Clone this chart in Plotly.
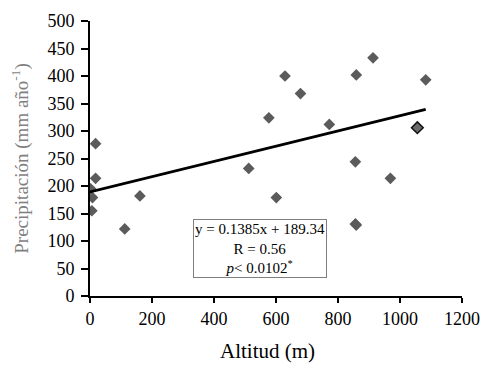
import plotly.graph_objects as go

altitud = [18, 18, 2, 8, 6, 161, 112, 629, 679, 577, 772, 859, 913, 1083, 512, 601, 856, 856, 969, 859]
precip = [277, 214, 195, 179, 155, 182, 122, 400, 368, 324, 312, 402, 433, 393, 232, 179, 244, 131, 214, 129]
alt_marked = [1056]
precip_marked = [306]

slope = 0.1385
intercept = 189.34
line_x = [0, 1083]
line_y = [slope * v + intercept for v in line_x]

x_ticks = [0, 200, 400, 600, 800, 1000, 1200]
y_ticks = [0, 50, 100, 150, 200, 250, 300, 350, 400, 450, 500]

font_family = "Liberation Serif, Times New Roman, serif"

fig = go.Figure()
fig.add_trace(go.Scatter(x=altitud, y=precip, mode="markers",
                         marker=dict(symbol="diamond", size=9, color="#5b5b5b"),
                         showlegend=False, hoverinfo="skip"))
fig.add_trace(go.Scatter(x=alt_marked, y=precip_marked, mode="markers",
                         marker=dict(symbol="diamond", size=9, color="#6a6a6a",
                                     line=dict(color="#111111", width=1.5)),
                         showlegend=False, hoverinfo="skip"))
fig.add_trace(go.Scatter(x=line_x, y=line_y, mode="lines",
                         line=dict(color="black", width=2.8),
                         showlegend=False, hoverinfo="skip"))

fig.add_annotation(x=0.277, y=0.28, xref="paper", yref="paper",
                   xanchor="left", yanchor="top",
                   text="y = 0.1385x + 189.34<br>R = 0.56<br><i>p</i>< 0.0102<sup>*</sup>",
                   showarrow=False, align="center",
                   font=dict(family=font_family, size=15, color="black"),
                   bordercolor="#7f7f7f", borderwidth=1, borderpad=1,
                   bgcolor="white")

fig.add_annotation(x=0.478, y=-0.2, xref="paper", yref="paper",
                   xanchor="center", yanchor="middle",
                   text="Altitud (m)", showarrow=False,
                   font=dict(family=font_family, size=21, color="black"))

fig.update_layout(
    width=492, height=365,
    margin=dict(l=82, r=38, t=13, b=77),
    paper_bgcolor="white", plot_bgcolor="white",
    font=dict(family=font_family, size=18, color="black"),
    xaxis=dict(range=[0, 1200], tickvals=x_ticks, showgrid=False, zeroline=False,
               automargin=False,
               showline=True, linecolor="black", linewidth=2,
               ticks="outside", ticklen=5, tickwidth=2, tickcolor="black"),
    yaxis=dict(range=[0, 500], tickvals=y_ticks, showgrid=False, zeroline=False,
               automargin=False, ticklabelstandoff=3,
               showline=True, linecolor="black", linewidth=2,
               ticks="outside", ticklen=7, tickwidth=2, tickcolor="black",
               title=dict(text="Precipitación (mm año<sup>-1</sup>)",
                          font=dict(size=19, color="#7f7f7f"), standoff=19)),
)

fig.write_html("out.html")
